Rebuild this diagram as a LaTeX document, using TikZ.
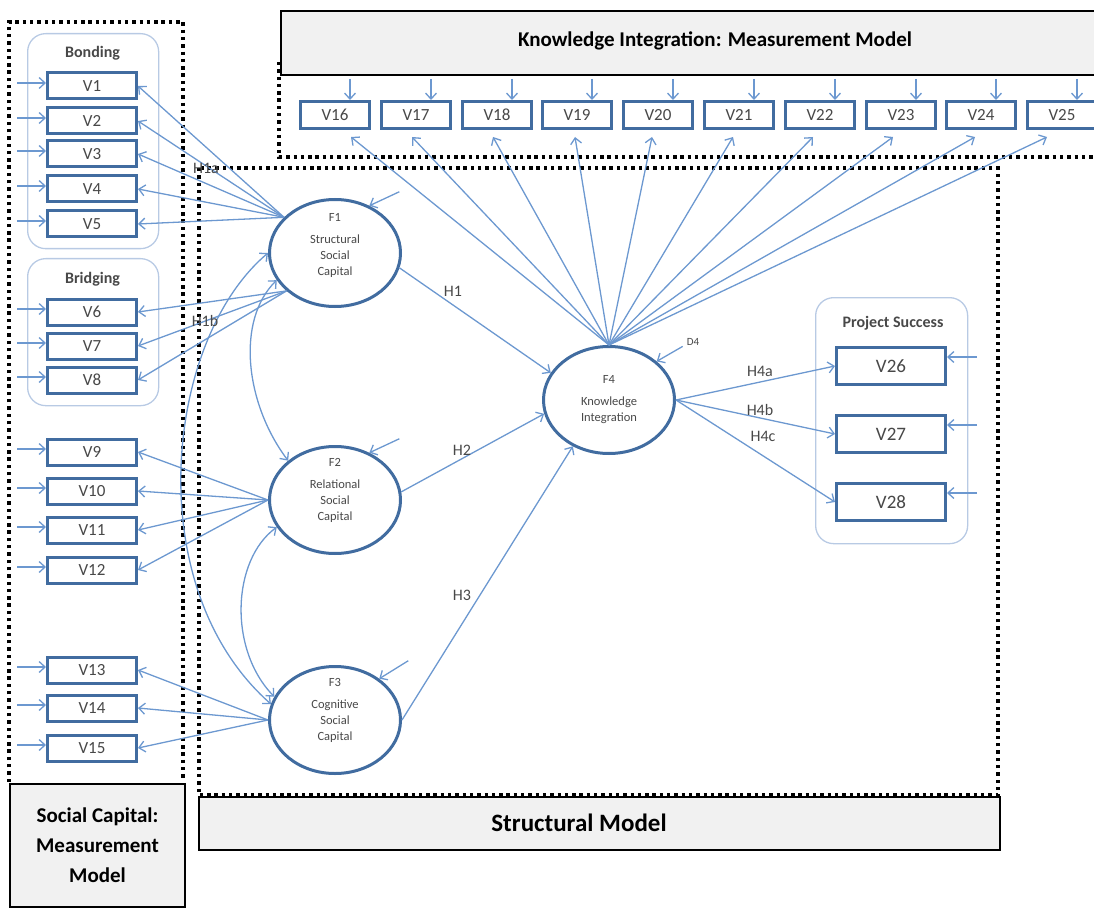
\documentclass[tikz,border=0pt]{standalone}
\usepackage{fontspec}
\setmainfont{Carlito}
\usetikzlibrary{arrows.meta,shapes.geometric}

\definecolor{linkblue}{RGB}{108,152,208}
\definecolor{boxblue}{RGB}{65,108,160}
\definecolor{grpline}{RGB}{184,202,228}
\definecolor{hdrfill}{RGB}{241,241,241}
\definecolor{vtext}{RGB}{72,72,72}

\begin{document}
\begin{tikzpicture}[x=1pt,y=-1pt,
  dotline/.style={draw=black, line width=3.4pt, dash pattern=on 3.4pt off 3.9pt},
  hdrbox/.style={draw=black, line width=2pt, fill=hdrfill, inner sep=0, anchor=north west},
  hdrtxt/.style={font=\bfseries\fontsize{21}{30}\selectfont, text=black, align=center, inner sep=0},
  grpbox/.style={draw=grpline, line width=1.3pt, rounded corners=18pt, inner sep=0, anchor=north west},
  grptxt/.style={font=\bfseries\fontsize{16}{16}\selectfont, text=vtext, inner sep=0},
  vbox/.style={draw=boxblue, line width=3pt, fill=white, inner sep=0, text=vtext,
               minimum width=89, minimum height=26, font=\fontsize{17}{17}\selectfont},
  vtop/.style={vbox, minimum width=69, minimum height=27},
  vright/.style={vbox, minimum width=109, minimum height=37, font=\fontsize{19}{19}\selectfont},
  latent/.style={ellipse, draw=boxblue, line width=3pt, fill=white, inner sep=0,
                 minimum width=131, minimum height=107},
  etxt/.style={font=\fontsize{12.5}{16}\selectfont, text=vtext, align=center, inner sep=0},
  link/.style={draw=linkblue, line width=1.3pt, -{Straight Barb[length=6pt,width=11pt]}},
  biarrow/.style={draw=linkblue, line width=1.3pt,
                  {Straight Barb[length=6pt,width=11pt]}-{Straight Barb[length=6pt,width=11pt]}},
  lbl/.style={font=\fontsize{16}{16}\selectfont, text=vtext, inner sep=0},
  smalllbl/.style={font=\fontsize{11}{11}\selectfont, text=vtext, inner sep=0}]

\useasboundingbox (0,0) rectangle (1094,909);

% measurement and structural frames
\draw[dotline] (9,782) -- (9,22) -- (183,22) -- (183,778);
\draw[dotline] (199,168) rectangle (998,795);
\draw[dotline] (279,62) -- (279,157) -- (1100,157);

% caption boxes
\node[hdrbox, minimum width=822, minimum height=64] (kihdr) at (280,10) {};
\node[hdrtxt] (kitxt) at (715,41) {Knowledge Integration: Measurement Model};
\node[hdrbox, minimum width=175, minimum height=123] (schdr) at (9,783) {};
\node[hdrtxt] (sctxt) at (schdr.center) {Social Capital:\\Measurement\\Model};
\node[hdrbox, minimum width=801, minimum height=53] (smhdr) at (198,796) {};
\node[hdrtxt, font=\bfseries\fontsize{25}{25}\selectfont] (smtxt) at (579,823) {Structural Model};

% indicator groups
\node[grpbox, minimum width=131, minimum height=215] (bonding) at (27,33) {};
\node[grptxt] (bondingt) at (92.5,53) {Bonding};
\node[grpbox, minimum width=131, minimum height=147] (bridging) at (27,258) {};
\node[grptxt] (bridgingt) at (92.5,279) {Bridging};
\node[grpbox, minimum width=152, minimum height=246] (success) at (815,297) {};
\node[grptxt] (successt) at (893,323) {Project Success};

% social capital indicators
\foreach \i/\y in {1/86,2/121,3/154,4/189,5/224,6/312,7/346,8/380,
                   9/452,10/491,11/530,12/570,13/670,14/708,15/748}
  \node[vbox] (v\i) at (92,\y) {V\i};

% knowledge integration indicators
\foreach \i/\x in {16/335,17/416,18/497,19/577,20/658,21/739,22/820,23/901,24/981,25/1062}
  \node[vtop] (v\i) at (\x,115) {V\i};

% project success indicators
\foreach \i/\y in {26/366,27/434,28/502}
  \node[vright] (v\i) at (891,\y) {V\i};

% latent factors
\node[latent] (f1) at (335,253) {};
\node[latent] (f2) at (335,500) {};
\node[latent] (f3) at (335,720) {};
\node[latent] (f4) at (609,400) {};
\node[etxt] (f1t) at ([yshift=8pt]f1.center) {F1\\[6pt]Structural\\Social\\Capital};
\node[etxt] (f2t) at ([yshift=10pt]f2.center) {F2\\[6pt]Relational\\Social\\Capital};
\node[etxt] (f3t) at ([yshift=10pt]f3.center) {F3\\[6pt]Cognitive\\Social\\Capital};
\node[etxt] (f4t) at (f4.center) {F4\\[6pt]Knowledge\\Integration};

% error terms on the indicators
\foreach \i in {1,...,15} {
  \coordinate (e\i) at ([xshift=-29pt,yshift=3pt]v\i.west);
  \draw[link] (e\i) -- (e\i -| v\i.west);
}
\foreach \i in {16,...,25} {
  \coordinate (e\i) at ([xshift=15pt,yshift=21pt]v\i.north);
  \draw[link] (e\i) -- (e\i |- v\i.north);
}
\foreach \i in {26,27,28} {
  \coordinate (e\i) at ([xshift=30pt,yshift=9pt]v\i.east);
  \draw[link] (e\i) -- (e\i -| v\i.east);
}

% disturbances on the factors
\coordinate (d1) at ([shift={(30,-14)}]f1.54);
\draw[link] (d1) -- (f1.54);
\coordinate (d2) at ([shift={(30,-14)}]f2.54);
\draw[link] (d2) -- (f2.54);
\coordinate (d3) at ([shift={(29,-18)}]f3.43);
\draw[link] (d3) -- (f3.43);
\coordinate (d4) at ([shift={(26,-15)}]f4.39);
\draw[link] (d4) -- (f4.39);
\node[smalllbl] (d4t) at (693,342) {D4};

% loadings: social capital
\foreach \i in {1,...,5} \draw[link] (f1.145) -- (v\i.east);
\foreach \i in {6,7,8} \draw[link] (f1.218) -- (v\i.east);
\foreach \i in {9,...,12} \draw[link] (f2.west) -- (v\i.east);
\foreach \i in {13,14,15} \draw[link] (f3.west) -- (v\i.east);

% loadings: knowledge integration
\foreach \i/\dx in {16/16,17/-4,18/-4,19/-2,20/-6,21/-6,22/-7,23/-8,24/-6,25/-15}
  \draw[link] (f4.north) -- ([xshift=\dx pt,yshift=-7pt]v\i.south);

% loadings: project success
\foreach \i in {26,27,28} \draw[link] (f4.east) -- (v\i.west);

% structural paths
\draw[link] (f1.-13) -- (f4.155);
\draw[link] (f2.7) -- (f4.192);
\draw[link] (f3.east) -- (f4.232);

% factor covariances
\draw[biarrow] (f1.205) .. controls +(-41,40) and +(-43,-57) .. (f2.140);
\draw[biarrow] (f2.205) .. controls +(-45,33) and +(-46,-47) .. (f3.159);
\draw[biarrow] (f1.west) .. controls +(-103,87) and +(-132,-117) .. (f3.166);

% path labels
\node[lbl] (h1a) at (206,168) {H1a};
\node[lbl] (h1b) at (205,321) {H1b};
\node[lbl] (h1) at (453,291) {H1};
\node[lbl] (h2) at (462,450) {H2};
\node[lbl] (h3) at (462,595) {H3};
\node[lbl] (h4a) at (760,371) {H4a};
\node[lbl] (h4b) at (760,410) {H4b};
\node[lbl] (h4c) at (763,436) {H4c};
\end{tikzpicture}
\end{document}
